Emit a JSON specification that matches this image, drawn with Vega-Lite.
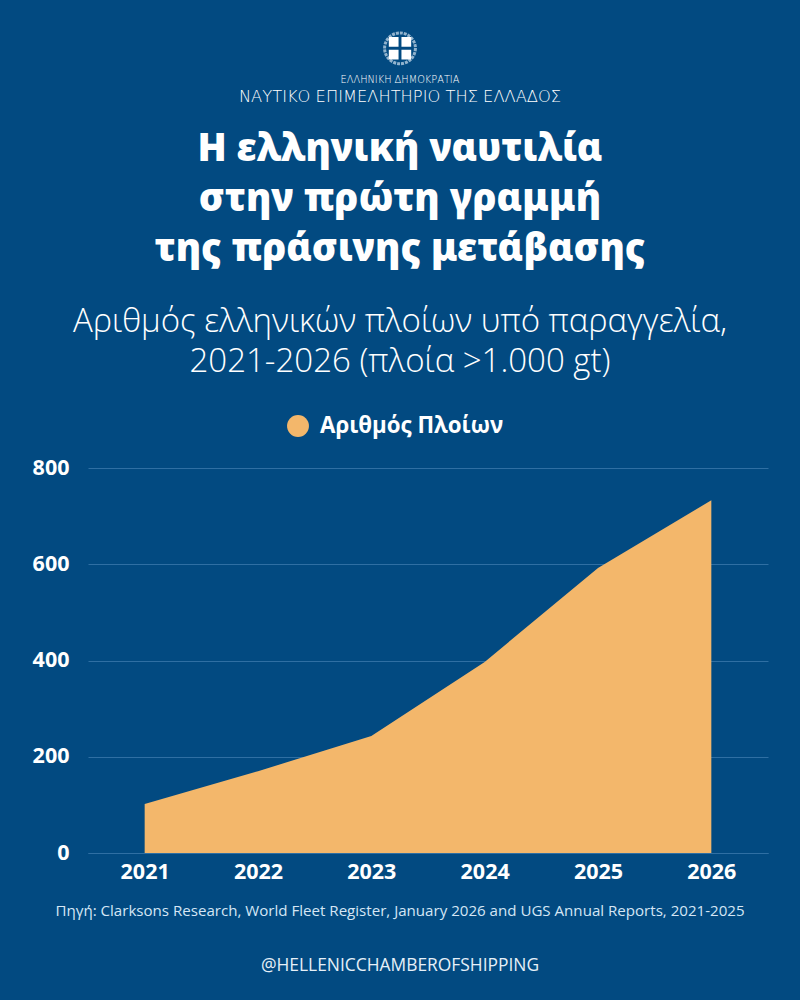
{
  "$schema": "https://vega.github.io/schema/vega-lite/v6.json",
  "width": 680,
  "height": 385,
  "autosize": {"type": "none"},
  "padding": {"left": 88, "top": 468, "right": 32, "bottom": 147},
  "background": "#024a81",
  "title": {
    "text": ["Η ελληνική ναυτιλία", "στην πρώτη γραμμή", "της πράσινης μετάβασης"],
    "subtitle": ["Αριθμός ελληνικών πλοίων υπό παραγγελία,", "2021-2026 (πλοία >1.000 gt)"],
    "anchor": "middle",
    "frame": "group",
    "dx": -28,
    "offset": -353,
    "color": "#ffffff",
    "font": "Noto Sans",
    "fontSize": 38.2,
    "fontWeight": 900,
    "lineHeight": 50,
    "subtitleColor": "#ffffff",
    "subtitleFont": "Open Sans",
    "subtitleFontSize": 33,
    "subtitleFontWeight": 300,
    "subtitleLineHeight": 40,
    "subtitlePadding": 37
  },
  "config": {
    "view": {"stroke": null},
    "axis": {"labelFont": "Open Sans", "labelFontWeight": 700, "labelFontSize": 21.5, "labelColor": "#ffffff"}
  },
  "layer": [
    {
      "data": {
        "values": [
          {"year": "2021", "ships": 102, "series": "Αριθμός Πλοίων"},
          {"year": "2022", "ships": 170, "series": "Αριθμός Πλοίων"},
          {"year": "2023", "ships": 243, "series": "Αριθμός Πλοίων"},
          {"year": "2024", "ships": 397, "series": "Αριθμός Πλοίων"},
          {"year": "2025", "ships": 592, "series": "Αριθμός Πλοίων"},
          {"year": "2026", "ships": 733, "series": "Αριθμός Πλοίων"}
        ]
      },
      "mark": {"type": "area"},
      "encoding": {
        "x": {
          "field": "year",
          "type": "ordinal",
          "title": null,
          "scale": {"type": "point", "padding": 0.5},
          "axis": {"labelAngle": 0, "ticks": false, "domainColor": "#2f6fa3", "labelPadding": 8, "grid": false}
        },
        "y": {
          "field": "ships",
          "type": "quantitative",
          "title": null,
          "scale": {"domain": [0, 800]},
          "axis": {"values": [0, 200, 400, 600, 800], "ticks": false, "domain": false, "labelPadding": 19, "grid": true, "gridColor": "#2f6fa3", "gridWidth": 1}
        },
        "color": {
          "field": "series",
          "type": "nominal",
          "title": null,
          "scale": {"range": ["#f3b76b"]},
          "legend": {
            "orient": "none",
            "legendX": 198,
            "legendY": -54,
            "symbolType": "circle",
            "symbolSize": 480,
            "symbolOpacity": 1,
            "labelFont": "Open Sans",
            "labelFontWeight": 700,
            "labelFontSize": 22.3,
            "labelLimit": 300,
            "labelColor": "#ffffff",
            "labelOffset": 10
          }
        }
      }
    },
    {
      "data": {"values": [{"label": "ΕΛΛΗΝΙΚΗ  ΔΗΜΟΚΡΑΤΙΑ"}]},
      "mark": {"type": "text", "font": "DejaVu Sans", "fontWeight": 200, "fontSize": 9.8, "color": "#ffffff", "align": "center", "baseline": "middle"},
      "encoding": {"text": {"field": "label"}, "x": {"value": 312}, "y": {"value": -388}}
    },
    {
      "data": {"values": [{"label": "ΝΑΥΤΙΚΟ ΕΠΙΜΕΛΗΤΗΡΙΟ ΤΗΣ ΕΛΛΑΔΟΣ"}]},
      "mark": {"type": "text", "font": "DejaVu Sans", "fontWeight": 200, "fontSize": 16.3, "color": "#ffffff", "align": "center", "baseline": "middle"},
      "encoding": {"text": {"field": "label"}, "x": {"value": 312}, "y": {"value": -371}}
    },
    {
      "data": {"values": [{"label": "Πηγή: Clarksons Research, World Fleet Register, January 2026 and UGS Annual Reports, 2021-2025"}]},
      "mark": {"type": "text", "font": "Open Sans", "fontSize": 15.1, "color": "#d5e6f5", "align": "center", "baseline": "middle"},
      "encoding": {"text": {"field": "label"}, "x": {"value": 312}, "y": {"value": 443}}
    },
    {
      "data": {"values": [{"label": "@HELLENICCHAMBEROFSHIPPING"}]},
      "mark": {"type": "text", "font": "Open Sans", "fontSize": 17.4, "color": "#e6f0f8", "align": "center", "baseline": "middle"},
      "encoding": {"text": {"field": "label"}, "x": {"value": 312}, "y": {"value": 498}}
    },
    {
      "data": {"values": [{"part": "wreath"}]},
      "mark": {"type": "point", "shape": "circle", "size": 950, "filled": false, "stroke": "#cfe0ee", "strokeWidth": 3, "strokeDash": [3, 1]},
      "encoding": {"x": {"value": 312}, "y": {"value": -419.7}}
    },
    {
      "data": {"values": [{"part": "shield"}]},
      "mark": {"type": "point", "shape": "M-1,-1H-0.13V-0.13H-1ZM0.13,-1H1V-0.13H0.13ZM-1,0.13H-0.13V1H-1ZM0.13,0.13H1V1H0.13Z", "size": 500, "filled": true, "fill": "#ffffff", "opacity": 1, "strokeWidth": 0},
      "encoding": {"x": {"value": 312}, "y": {"value": -419.7}}
    }
  ]
}
